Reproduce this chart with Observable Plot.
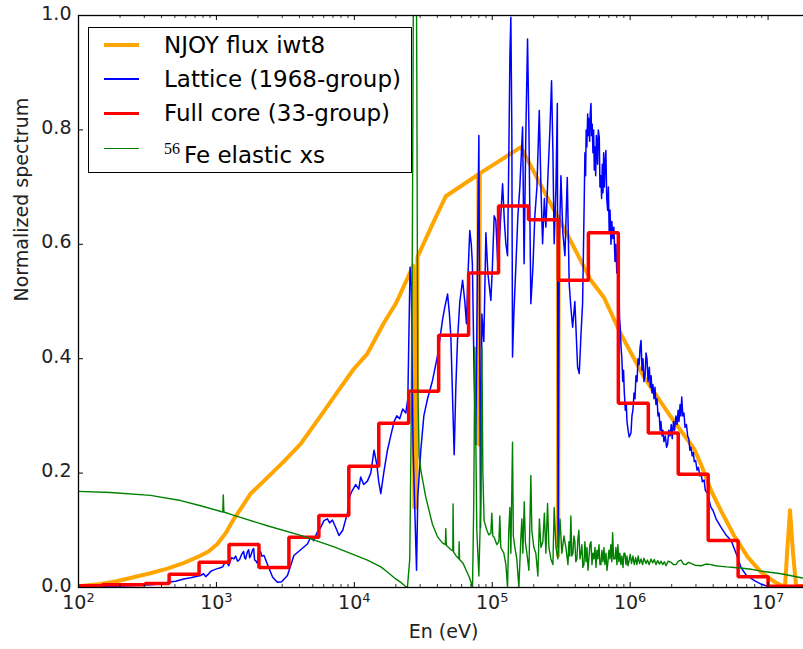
<!DOCTYPE html>
<html><head><meta charset="utf-8">
<script src="https://cdn.jsdelivr.net/npm/d3@7"></script>
<script src="https://cdn.jsdelivr.net/npm/@observablehq/plot@0.6"></script>
<style>
html,body{margin:0;padding:0;background:#fff;overflow:hidden;}
#wrap{position:relative;width:808px;height:649px;}
#legend{position:absolute;left:88px;top:27px;width:324px;height:146px;box-sizing:border-box;border:1.3px solid #000;background:#fff;font-family:"DejaVu Sans";font-size:23px;color:#000;}
.row{position:absolute;left:0;height:34px;line-height:34px;white-space:nowrap;}
.sample{position:absolute;left:15px;width:35px;}
.label{position:absolute;left:75px;top:0;}
.sup{font-family:"Liberation Serif";font-size:16px;vertical-align:9px;margin-right:4px;}
</style></head><body><div id="wrap"></div>
<script>
// ---- data: [log10(E / eV), normalized value] ----
const njoyPoints = [[2.000,0.002],[2.160,0.006],[2.276,0.011],[2.399,0.018],[2.522,0.025],[2.644,0.033],[2.755,0.042],[2.861,0.053],[2.943,0.063],[3.007,0.076],[3.067,0.095],[3.127,0.120],[3.183,0.140],[3.248,0.164],[3.369,0.192],[3.488,0.220],[3.611,0.251],[3.756,0.300],[3.901,0.350],[3.996,0.382],[4.095,0.409],[4.213,0.462],[4.300,0.496],[4.337,0.515],[4.427,0.563],[4.435,0.140],[4.449,0.140],[4.458,0.578],[4.578,0.641],[4.663,0.684],[4.899,0.722],[4.905,0.250],[4.910,0.724],[5.208,0.770],[5.353,0.703],[5.476,0.647],[5.478,0.056],[5.482,0.645],[5.594,0.594],[5.715,0.537],[5.810,0.507],[5.933,0.443],[6.100,0.368],[6.296,0.298],[6.465,0.242],[6.514,0.215],[6.586,0.170],[6.659,0.134],[6.755,0.090],[6.853,0.053],[6.949,0.027],[7.046,0.010],[7.094,0.004],[7.123,0.003],[7.138,0.060],[7.159,0.135],[7.181,0.060],[7.203,0.003],[7.293,0.002]];

const latticePoints = [[2.000,0.000],[2.087,0.001],[2.232,0.002],[2.377,0.003],[2.522,0.005],[2.595,0.006],[2.644,0.009],[2.704,0.011],[2.764,0.015],[2.813,0.017],[2.885,0.021],[2.907,0.024],[2.922,0.019],[2.936,0.022],[2.958,0.028],[2.972,0.030],[3.007,0.033],[3.023,0.034],[3.045,0.036],[3.059,0.042],[3.074,0.045],[3.089,0.038],[3.103,0.048],[3.110,0.052],[3.127,0.050],[3.139,0.055],[3.154,0.046],[3.168,0.049],[3.183,0.058],[3.197,0.063],[3.205,0.052],[3.212,0.050],[3.224,0.062],[3.234,0.066],[3.241,0.052],[3.248,0.055],[3.263,0.066],[3.270,0.068],[3.277,0.048],[3.284,0.047],[3.297,0.042],[3.306,0.065],[3.321,0.062],[3.328,0.055],[3.345,0.056],[3.379,0.035],[3.408,0.018],[3.442,0.009],[3.473,0.010],[3.515,0.021],[3.562,0.056],[3.611,0.066],[3.660,0.076],[3.684,0.088],[3.705,0.082],[3.732,0.097],[3.756,0.105],[3.780,0.117],[3.805,0.120],[3.821,0.113],[3.841,0.118],[3.865,0.105],[3.889,0.091],[3.916,0.100],[3.950,0.130],[3.967,0.160],[3.986,0.170],[4.010,0.180],[4.032,0.172],[4.046,0.193],[4.068,0.180],[4.095,0.186],[4.119,0.200],[4.143,0.240],[4.163,0.215],[4.177,0.185],[4.192,0.164],[4.213,0.200],[4.240,0.240],[4.264,0.265],[4.288,0.290],[4.308,0.300],[4.329,0.295],[4.351,0.312],[4.373,0.305],[4.388,0.330],[4.404,0.560],[4.413,0.530],[4.426,0.245],[4.438,0.140],[4.451,0.030],[4.460,0.158],[4.482,0.240],[4.504,0.300],[4.531,0.330],[4.567,0.362],[4.603,0.405],[4.639,0.467],[4.656,0.490],[4.676,0.513],[4.689,0.480],[4.700,0.438],[4.724,0.232],[4.736,0.350],[4.748,0.432],[4.765,0.500],[4.785,0.537],[4.801,0.500],[4.813,0.461],[4.823,0.540],[4.837,0.624],[4.848,0.600],[4.856,0.566],[4.869,0.362],[4.881,0.250],[4.892,0.550],[4.903,0.790],[4.910,0.400],[4.915,0.105],[4.925,0.478],[4.939,0.430],[4.954,0.620],[4.968,0.550],[4.990,0.502],[5.001,0.560],[5.014,0.650],[5.026,0.642],[5.041,0.560],[5.055,0.620],[5.075,0.706],[5.088,0.640],[5.099,0.600],[5.111,0.580],[5.120,0.750],[5.128,0.930],[5.135,0.997],[5.142,0.800],[5.147,0.403],[5.157,0.480],[5.171,0.560],[5.186,0.650],[5.200,0.700],[5.220,0.805],[5.231,0.566],[5.244,0.800],[5.256,0.959],[5.266,0.800],[5.280,0.496],[5.295,0.560],[5.309,0.650],[5.324,0.700],[5.341,0.834],[5.353,0.700],[5.365,0.601],[5.378,0.680],[5.389,0.630],[5.404,0.720],[5.418,0.800],[5.430,0.886],[5.440,0.760],[5.449,0.601],[5.462,0.700],[5.472,0.846],[5.478,0.070],[5.486,0.600],[5.498,0.720],[5.512,0.620],[5.527,0.580],[5.544,0.717],[5.558,0.531],[5.570,0.490],[5.583,0.455],[5.599,0.500],[5.619,0.385],[5.631,0.374],[5.643,0.440],[5.655,0.496],
[5.667,0.677],[5.672,0.760],[5.677,0.720],[5.681,0.800],[5.686,0.770],[5.692,0.828],[5.696,0.790],[5.701,0.820],[5.706,0.780],[5.711,0.830],[5.716,0.846],[5.720,0.790],[5.725,0.810],[5.730,0.760],[5.735,0.800],[5.740,0.730],[5.745,0.770],[5.750,0.720],[5.755,0.790],[5.759,0.776],[5.764,0.740],[5.769,0.800],[5.776,0.787],[5.781,0.700],[5.788,0.720],[5.793,0.680],[5.798,0.740],[5.803,0.690],[5.808,0.760],[5.813,0.700],[5.818,0.740],[5.824,0.764],[5.830,0.680],[5.837,0.659],[5.842,0.700],[5.848,0.620],[5.854,0.660],[5.861,0.600],[5.867,0.640],[5.875,0.610],[5.882,0.630],[5.890,0.570],[5.897,0.600],[5.903,0.550],[5.909,0.584],[5.914,0.540],[5.919,0.520],[5.923,0.470],[5.928,0.455],[5.934,0.420],[5.940,0.400],[5.946,0.360],[5.952,0.380],[5.957,0.344],[5.965,0.310],[5.972,0.320],[5.977,0.290],[5.985,0.275],[5.993,0.263],
[6.006,0.270],[6.013,0.300],[6.020,0.310],[6.028,0.340],[6.035,0.330],[6.042,0.370],[6.050,0.360],[6.057,0.400],[6.065,0.390],[6.072,0.420],[6.079,0.432],[6.086,0.380],[6.093,0.400],[6.100,0.360],[6.108,0.370],[6.115,0.410],[6.122,0.400],[6.130,0.360],[6.139,0.385],[6.146,0.350],[6.152,0.370],[6.158,0.340],[6.165,0.355],[6.173,0.330],[6.180,0.350],[6.187,0.320],[6.195,0.330],[6.202,0.300],[6.210,0.305],[6.217,0.275],[6.223,0.290],[6.231,0.265],[6.238,0.275],[6.245,0.255],[6.255,0.265],[6.264,0.245],[6.272,0.251],[6.280,0.275],[6.289,0.265],[6.298,0.285],[6.305,0.260],[6.314,0.290],[6.322,0.275],[6.332,0.300],[6.340,0.285],[6.348,0.310],[6.354,0.290],[6.362,0.320],[6.368,0.300],[6.374,0.333],[6.382,0.300],[6.390,0.305],[6.398,0.280],[6.408,0.285],[6.417,0.265],[6.425,0.260],[6.433,0.240],[6.441,0.245],[6.450,0.230],[6.458,0.236],[6.465,0.220],[6.475,0.222],[6.485,0.205],[6.495,0.210],[6.505,0.195],[6.514,0.200],[6.523,0.185],[6.536,0.188],[6.545,0.170],[6.562,0.164],[6.575,0.150],[6.586,0.140],[6.600,0.135],[6.623,0.120],[6.659,0.105],[6.695,0.092],[6.732,0.082],[6.768,0.060],[6.804,0.035],[6.840,0.022],[6.901,0.012],[6.949,0.006],[6.998,0.002],[7.094,0.001],[7.293,0.000]];

// 33-group structure (eV) and group values
const groupEdges = [91.661,148.63,304.33,454.0,748.52,1234.1,2034.7,3354.6,5530.8,9118.8,15034,24788,40868,67379,111090,183160,301970,497870,820850,1353400,2231300,3678800,6065300,1.0e7,1.964e7];
const groupFlux = [0.003,0.005,0.007,0.023,0.044,0.075,0.035,0.088,0.126,0.212,0.287,0.343,0.441,0.550,0.667,0.643,0.537,0.620,0.322,0.270,0.198,0.082,0.019,0.002];

const fePoints = [[2.000,0.168],[2.232,0.166],[2.522,0.161],[2.740,0.152],[2.885,0.143],[3.046,0.132],[3.050,0.162],[3.054,0.132],[3.127,0.126],[3.369,0.108],[3.611,0.091],[3.853,0.071],[4.095,0.048],[4.192,0.036],[4.240,0.027],[4.300,0.015],[4.337,0.009],[4.366,0.003],[4.385,0.000],[4.402,0.050],[4.413,0.300],[4.421,0.620],[4.431,1.200],[4.442,1.500],[4.453,0.900],[4.460,0.350],[4.470,0.230],[4.482,0.205],[4.518,0.158],[4.567,0.110],[4.605,0.088],[4.639,0.078],[4.660,0.075],[4.663,0.103],[4.667,0.074],[4.700,0.066],[4.714,0.064],[4.716,0.146],[4.720,0.062],[4.736,0.056],[4.758,0.050],[4.760,0.080],[4.763,0.049],[4.787,0.043],[4.808,0.032],[4.830,0.020],[4.845,0.010],[4.857,0.000],[4.866,0.150],[4.874,0.420],[4.888,0.100],[4.903,0.020],[4.917,0.150],[4.925,0.420],[4.932,0.200],[4.941,0.117],[4.961,0.100],[4.975,0.092],[4.990,0.095],[4.997,0.130],[5.004,0.090],[5.014,0.088],[5.033,0.075],[5.048,0.080],[5.055,0.125],[5.062,0.070],[5.084,0.060],[5.099,0.040],[5.111,0.000],[5.120,0.100],[5.128,0.140],[5.135,0.060],[5.147,0.254],[5.153,0.090],[5.164,0.070],[5.178,0.050],[5.193,0.000],[5.208,0.090],[5.215,0.120],[5.222,0.060],[5.232,0.150],[5.240,0.080],[5.251,0.060],[5.266,0.030],[5.280,0.196],[5.287,0.100],[5.302,0.070],[5.316,0.060],[5.331,0.020],[5.342,0.120],[5.353,0.070],[5.367,0.080],[5.378,0.130],[5.389,0.060],[5.401,0.147],[5.411,0.070],[5.425,0.050],[5.440,0.040],[5.449,0.140],[5.462,0.070],[5.476,0.050],[5.491,0.120],[5.505,0.060],[5.520,0.090],[5.534,0.070],
[5.549,0.040],[5.556,0.080],[5.563,0.055],[5.570,0.125],[5.577,0.055],[5.585,0.060],[5.592,0.090],[5.599,0.080],[5.606,0.045],[5.614,0.050],[5.621,0.085],[5.628,0.100],[5.636,0.050],[5.643,0.060],[5.650,0.075],[5.657,0.035],[5.665,0.040],[5.672,0.080],[5.680,0.045],[5.687,0.070],[5.694,0.030],[5.701,0.050],[5.708,0.075],[5.716,0.080],[5.723,0.040],[5.730,0.060],[5.737,0.050],[5.745,0.070],[5.752,0.035],[5.759,0.065],[5.766,0.050],[5.774,0.075],[5.781,0.040],[5.788,0.040],[5.795,0.065],[5.803,0.045],[5.810,0.070],[5.817,0.040],[5.825,0.060],[5.832,0.030],[5.839,0.045],[5.846,0.065],[5.853,0.050],[5.860,0.075],[5.867,0.045],[5.873,0.096],[5.880,0.050],[5.890,0.050],[5.897,0.070],[5.904,0.040],[5.911,0.075],[5.918,0.045],[5.925,0.060],[5.933,0.040],[5.940,0.055],[5.948,0.035],[5.955,0.060],[5.962,0.060],[5.970,0.040],[5.977,0.055],[5.984,0.038],[5.991,0.045],[6.000,0.058],[6.010,0.042],[6.020,0.055],[6.030,0.040],[6.040,0.052],[6.049,0.040],[6.058,0.055],[6.068,0.042],[6.079,0.050],[6.090,0.040],[6.100,0.051],[6.115,0.042],[6.125,0.048],[6.138,0.040],[6.151,0.050],[6.163,0.043],[6.175,0.049],[6.187,0.040],[6.200,0.047],[6.212,0.041],[6.224,0.046],[6.236,0.040],[6.248,0.045],[6.260,0.038],[6.275,0.046],[6.296,0.044],[6.315,0.040],[6.332,0.040],[6.350,0.046],[6.369,0.048],[6.387,0.041],[6.405,0.040],[6.423,0.044],[6.441,0.042],[6.470,0.039],[6.514,0.038],[6.550,0.041],[6.586,0.040],[6.620,0.038],[6.659,0.037],[6.700,0.036],[6.753,0.035],[6.800,0.034],[6.877,0.032],[6.940,0.029],[6.998,0.027],[7.094,0.024],[7.160,0.021],[7.239,0.017],[7.293,0.015]];

const xTickValues = [1e2,1e3,1e4,1e5,1e6,1e7];
const yTickValues = [0.0,0.2,0.4,0.6,0.8,1.0];
const legendLabels = ["NJOY flux iwt8","Lattice (1968-group)","Full core (33-group)","Fe elastic xs"];
const legendColors = ["#FFA500","#0000FF","#FF0000","#008000"];
const xLabel = "En (eV)";
const yLabel = "Normalized spectrum";

// ---- build tables ----
const toRows = pts => pts.map(([l,v])=>({E:10**l, v}));
const njoy = toRows(njoyPoints);
const lattice = toRows(latticePoints);
const fe = toRows(fePoints);
const group = groupFlux.map((v,i)=>({E:groupEdges[i], v})).concat([{E:groupEdges[groupEdges.length-1], v:groupFlux[groupFlux.length-1]}]);
const xMinor = [];
for (let k=2;k<=7;k++) for (let m=2;m<=9;m++){const t=m*10**k; if (t<1.964e7) xMinor.push(t);}

const W=808,H=649,mT=15,mB=62,mL=78,mR=0;
const pH=H-mT-mB, pW=W-mL-mR;
const lw = [4,1.5,3.5,1.4];

const chart = Plot.plot({
  width:W, height:H, marginTop:mT, marginBottom:mB, marginLeft:mL, marginRight:mR,
  style:{fontFamily:"DejaVu Sans", background:"white", maxWidth:"none", color:"black"},
  x:{type:"log", domain:[100,1.964e7], axis:null},
  y:{domain:[0,1], axis:null},
  marks:[
    Plot.line(njoy,{x:"E",y:"v",stroke:legendColors[0],strokeWidth:lw[0],strokeLinejoin:"round",clip:true}),
    Plot.line(lattice,{x:"E",y:"v",stroke:legendColors[1],strokeWidth:lw[1],strokeLinejoin:"round",clip:true}),
    Plot.line(group,{x:"E",y:"v",curve:"step-after",stroke:legendColors[2],strokeWidth:lw[2],strokeLinejoin:"miter",clip:true}),
    Plot.line(fe,{x:"E",y:"v",stroke:legendColors[3],strokeWidth:lw[3],strokeLinejoin:"round",clip:true}),
    Plot.tickX(xTickValues,{x:d=>d,insetTop:pH-5,stroke:"black",strokeWidth:1}),
    Plot.tickX(xTickValues,{x:d=>d,insetBottom:pH-5,stroke:"black",strokeWidth:1}),
    Plot.tickX(xMinor,{x:d=>d,insetTop:pH-3,stroke:"black",strokeWidth:0.8}),
    Plot.tickX(xMinor,{x:d=>d,insetBottom:pH-3,stroke:"black",strokeWidth:0.8}),
    Plot.tickY(yTickValues,{y:d=>d,insetRight:pW-5,stroke:"black",strokeWidth:1}),
    Plot.tickY(yTickValues,{y:d=>d,insetLeft:pW-5,stroke:"black",strokeWidth:1}),
    Plot.frame({stroke:"black",strokeWidth:1.3}),
    Plot.text(yTickValues,{y:d=>d,frameAnchor:"left",dx:-7,dy:-2,textAnchor:"end",text:d=>d.toFixed(1),fontSize:19,fill:"#222"}),
    Plot.text(xTickValues,{x:d=>d,frameAnchor:"bottom",dy:21,text:d=>"10^"+Math.round(Math.log10(d)),fontSize:19,fill:"#222"}),
    Plot.text([xLabel],{frameAnchor:"bottom",dy:50,text:d=>d,fontSize:19,fill:"#222"}),
    Plot.text([yLabel],{frameAnchor:"left",dx:-57,rotate:-90,text:d=>d,fontSize:19,fill:"#222"})
  ]
});

// superscript exponents on x tick labels
d3.select(chart).selectAll("text").each(function(){
  const m = /^10\^(\d+)$/.exec(this.textContent);
  if (!m) return;
  const t = d3.select(this);
  t.text(null);
  t.append("tspan").text("10");
  t.append("tspan").attr("dy",-6.5).attr("font-size",13).text(m[1]);
});

const wrap = document.getElementById("wrap");
wrap.appendChild(chart);

// legend
const leg = document.createElement("div");
leg.id = "legend";
const centers = [17.4,51,85.4,120.7];
legendLabels.forEach((lab,i)=>{
  const row = document.createElement("div");
  row.className = "row";
  row.style.top = (centers[i]-17)+"px";
  row.style.width = "320px";
  const s = document.createElement("div");
  s.className = "sample";
  s.style.top = (17-lw[i]/2)+"px";
  s.style.height = lw[i]+"px";
  s.style.background = legendColors[i];
  row.appendChild(s);
  const l = document.createElement("div");
  l.className = "label";
  if (i===3){
    const sp = document.createElement("span");
    sp.className = "sup"; sp.textContent = "56";
    l.appendChild(sp);
    l.appendChild(document.createTextNode(lab));
  } else l.textContent = lab;
  row.appendChild(l);
  leg.appendChild(row);
});
wrap.appendChild(leg);
</script></body></html>
